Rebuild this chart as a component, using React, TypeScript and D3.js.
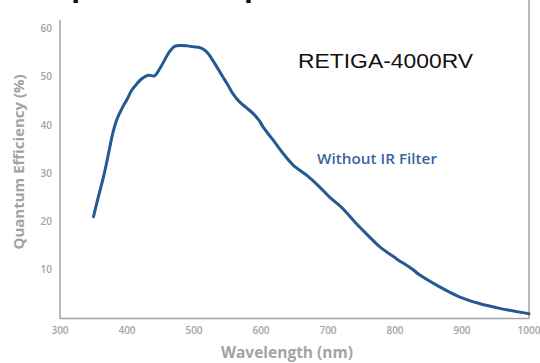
import React, { useEffect, useRef } from 'react'
import * as d3 from 'd3'

// wavelength (nm) and quantum efficiency (%)
const wavelengths = [350, 357, 365, 372, 379, 385, 392, 400, 407, 415, 422, 432, 441, 449, 457, 464, 471, 480, 490, 499, 507, 514, 521, 528, 536, 543, 551, 558, 568, 578, 588, 598, 603, 618, 633, 648, 668, 685, 702, 722, 740, 757, 777, 802, 826, 836, 866, 896, 926, 956, 1000]
const efficiency = [21, 25, 29.3, 33.8, 38.4, 41.2, 43.3, 45.3, 47.2, 48.6, 49.6, 50.3, 50.2, 51.7, 53.7, 55.3, 56.3, 56.5, 56.4, 56.2, 56.1, 55.7, 54.8, 53.4, 51.6, 50, 48.2, 46.5, 44.8, 43.6, 42.4, 40.8, 39.6, 36.9, 34.1, 31.7, 29.6, 27.5, 25.1, 22.7, 19.9, 17.5, 14.8, 12.3, 10.1, 9.0, 6.5, 4.4, 3.0, 2.0, 0.9]
const xTicks = [300, 400, 500, 600, 700, 800, 900, 1000]
const yTicks = [10, 20, 30, 40, 50, 60]

const W = 540
const H = 363

export default function App() {
  const ref = useRef<SVGSVGElement>(null)

  useEffect(() => {
    const svg = d3.select(ref.current)
    svg.selectAll('*').remove()

    const x = d3.scaleLinear().domain([300, 1000]).range([60, 529])
    const y = d3.scaleLinear().domain([0, 60]).range([318, 28.5])
    const grey = '#a3a3a3'
    const tickFont = '"Open Sans", sans-serif'

    // heading, mostly above the visible area (only descenders show)
    svg.append('text')
      .attr('x', 50).attr('y', -4)
      .attr('font-family', '"Liberation Sans", Arial, sans-serif')
      .attr('font-weight', 'bold').attr('font-size', 32)
      .attr('fill', '#111')
      .text('Spectral Response')

    // frame
    svg.append('line').attr('x1', 60).attr('x2', 60).attr('y1', 20).attr('y2', 318.5)
      .attr('stroke', grey).attr('stroke-width', 1.5)
    svg.append('line').attr('x1', 59.5).attr('x2', 529).attr('y1', 318.5).attr('y2', 318.5)
      .attr('stroke', grey).attr('stroke-width', 1.5)
    svg.append('line').attr('x1', 529).attr('x2', 529).attr('y1', 0).attr('y2', 319)
      .attr('stroke', grey).attr('stroke-width', 1.5)

    // y tick labels
    svg.append('g').selectAll('text').data(yTicks).enter().append('text')
      .attr('x', 52).attr('y', d => y(d) + 3.5)
      .attr('text-anchor', 'end')
      .attr('font-family', tickFont).attr('font-weight', 600).attr('font-size', 10)
      .attr('fill', grey)
      .text(d => d)

    // x tick labels
    svg.append('g').selectAll('text').data(xTicks).enter().append('text')
      .attr('x', d => x(d)).attr('y', 334)
      .attr('text-anchor', 'middle')
      .attr('font-family', tickFont).attr('font-weight', 600).attr('font-size', 10)
      .attr('fill', grey)
      .text(d => d)

    // axis titles
    svg.append('text')
      .attr('x', 287).attr('y', 358)
      .attr('text-anchor', 'middle')
      .attr('font-family', tickFont).attr('font-weight', 'bold').attr('font-size', 15.5)
      .attr('fill', grey)
      .text('Wavelength (nm)')

    svg.append('text')
      .attr('transform', 'translate(24,162) rotate(-90)')
      .attr('text-anchor', 'middle')
      .attr('font-family', tickFont).attr('font-weight', 'bold').attr('font-size', 15)
      .attr('fill', grey)
      .text('Quantum Efficiency (%)')

    // curve
    const pts: [number, number][] = wavelengths.map((w, i) => [w, efficiency[i]])
    const line = d3.line<[number, number]>()
      .x(d => x(d[0])).y(d => y(d[1]))
      .curve(d3.curveCatmullRom)
    svg.append('path').attr('d', line(pts))
      .attr('fill', 'none')
      .attr('stroke', '#245a94')
      .attr('stroke-width', 3)
      .attr('stroke-linejoin', 'round')
      .attr('stroke-linecap', 'round')

    // annotations
    svg.append('text')
      .attr('x', 298).attr('y', 68)
      .attr('font-family', '"Liberation Sans", Arial, sans-serif').attr('font-size', 21)
      .attr('textLength', 175).attr('lengthAdjust', 'spacingAndGlyphs')
      .attr('fill', '#111')
      .text('RETIGA-4000RV')

    svg.append('text')
      .attr('x', 317).attr('y', 164)
      .attr('font-family', '"Open Sans", sans-serif').attr('font-weight', 600).attr('font-size', 13.5)
      .attr('textLength', 120).attr('lengthAdjust', 'spacingAndGlyphs')
      .attr('fill', '#3b63a0')
      .text('Without IR Filter')
  }, [])

  return (
    <svg ref={ref} width={W} height={H}
      style={{ position: 'absolute', left: 0, top: 0, background: '#fff' }} />
  )
}
